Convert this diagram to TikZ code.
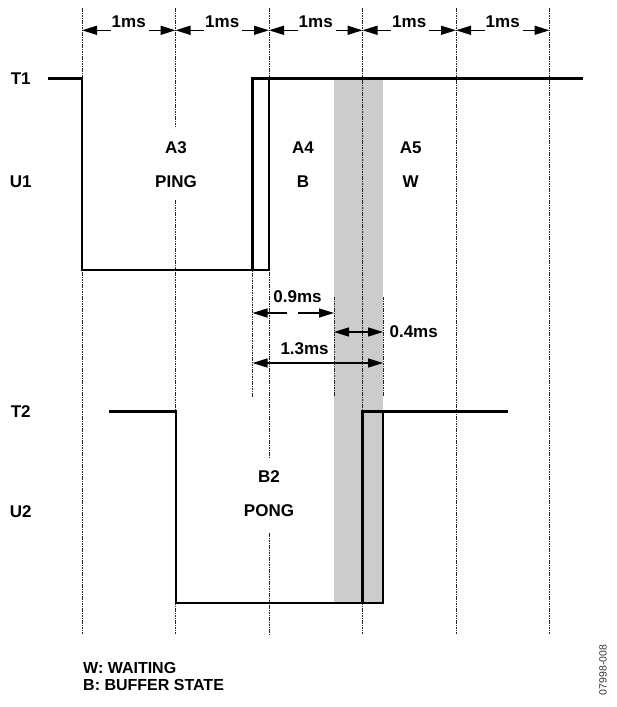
\documentclass[tikz,border=0pt]{standalone}
\usepackage{fontspec}
\setmainfont{Liberation Sans}
\usetikzlibrary{arrows.meta,calc}

\begin{document}
\begin{tikzpicture}[x=1pt, y=-1pt,
		signal/.style={line width=2.6pt, line join=miter},
		gridline/.style={line width=0.9pt, color=black!85, dash pattern=on 1.6pt off 0.8pt},
		dimline/.style={line width=1.4pt, -{Triangle[length=15pt,width=9pt]}},
		dimboth/.style={line width=1.4pt, {Triangle[length=15pt,width=9pt]}-{Triangle[length=15pt,width=9pt]}},
		lbl/.style={font=\fontsize{17}{20}\selectfont\bfseries, inner sep=0pt},
		leg/.style={font=\fontsize{16}{17}\selectfont\bfseries, inner sep=0pt, anchor=west},
		band/.style={fill=black!20, draw=none}]
			%%%%% START %%%%%
			
			\useasboundingbox (0, 0) rectangle (616, 707);
			
			\fill[band] (334, 78.7) rectangle (383, 603);
			
			\foreach \i in {0,...,5}
				\coordinate (g\i) at ({82+93.5*\i}, 30.3);
			
			\foreach \i in {0,3,4,5}
				\draw[gridline] (g\i |- 0, 8) -- (g\i |- 0, 634);
			\draw[gridline] (g1 |- 0, 8) -- (g1 |- 0, 128) (g1 |- 0, 200) -- (g1 |- 0, 634);
			\draw[gridline] (g2 |- 0, 8) -- (g2 |- 0, 457) (g2 |- 0, 533) -- (g2 |- 0, 634);
			
			\foreach \i [count=\j from 1, evaluate=\i as \k using int(\i+1)] in {0,...,4} {
				\node[lbl] (ms\j) at ({128.75+93.5*\i}, 21.7) {1ms};
				\draw[dimline] ($(ms\j.west)+(-1, 8.6)$) -- (g\i);
				\draw[dimline] ($(ms\j.east)+(3, 8.6)$) -- (g\k);
			}
			
			\node[lbl] (t1) at (20.7, 79) {T1};
			\node[lbl] (u1) at (20.7, 181.5) {U1};
			\node[lbl] (t2) at (20.7, 412) {T2};
			\node[lbl] (u2) at (20.7, 512) {U2};
			
			\draw[signal] (48, 78.7) -- (82, 78.7) -- (82, 270) -- (269, 270) -- (269, 78.7);
			\draw[signal] (252.5, 270) -- (252.5, 78.7) -- (583, 78.7);
			
			\draw[signal] (109, 411.7) -- (176, 411.7) -- (176, 603) -- (383, 603) -- (383, 411.7);
			\draw[signal] (362.5, 603) -- (362.5, 411.7) -- (508, 411.7);
			
			\node[lbl] (a3) at (176, 148) {A3};
			\node[lbl] (ping) at (176, 182) {PING};
			\node[lbl] (a4) at (303, 148) {A4};
			\node[lbl] (bstate) at (303, 182) {B};
			\node[lbl] (a5) at (410.7, 148) {A5};
			\node[lbl] (wstate) at (410.7, 182) {W};
			\node[lbl] (b2) at (269, 477) {B2};
			\node[lbl] (pong) at (269, 511) {PONG};
			
			\coordinate (e1) at (252.5, 397);
			\coordinate (e2) at (334, 396);
			\coordinate (e3) at (383, 396);
			\draw[gridline] (e1) -- (e1 |- 0, 270);
			\draw[gridline] (e2) -- (e2 |- 0, 297);
			\draw[gridline] (e3) -- (e3 |- 0, 297);
			
			\node[lbl] (d09) at (297.5, 296.7) {0.9ms};
			\draw[dimline] ($(d09.center)+(-10.5, 16.3)$) -- (e1 |- 0, 313);
			\draw[dimline] ($(d09.center)+(0.5, 16.3)$) -- (e2 |- 0, 313);
			
			\node[lbl] (d04) at (413.7, 332) {0.4ms};
			\draw[dimboth] (e2 |- d04) -- (e3 |- d04);
			
			\node[lbl] (d13) at (304.6, 349) {1.3ms};
			\draw[dimboth] (e1 |- 0, 363) -- (e3 |- 0, 363);
			
			\node[leg] (legw) at (83, 668) {W: WAITING};
			\node[leg] (legb) at (83, 684.5) {B: BUFFER STATE};
			
			\node[rotate=90, inner sep=0pt, color=black!80, font=\fontsize{10.5}{12}\selectfont] (figno) at (603, 670) {07998-008};
			
			%%%%% END %%%%%
\end{tikzpicture}
\end{document}
